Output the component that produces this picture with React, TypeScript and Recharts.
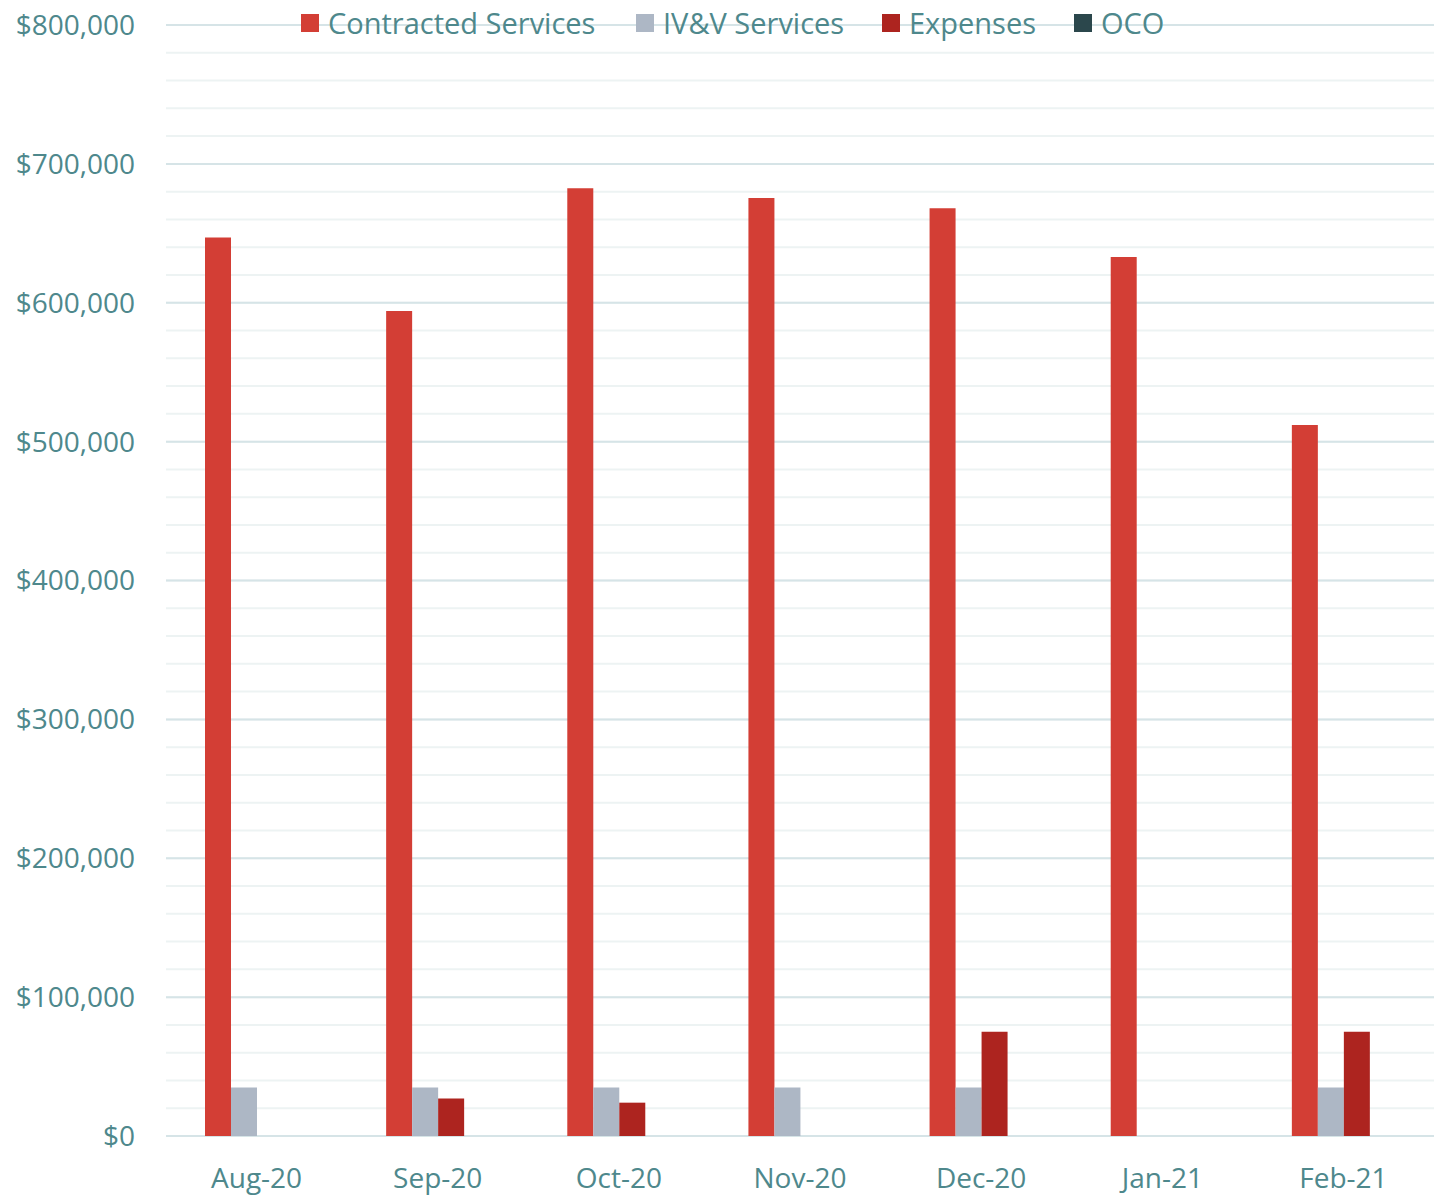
import { BarChart, Bar, XAxis, YAxis, CartesianGrid } from "recharts";

const months = ["Aug-20", "Sep-20", "Oct-20", "Nov-20", "Dec-20", "Jan-21", "Feb-21"];
const contracted = [647000, 594000, 682500, 675500, 668000, 633000, 512000];
const ivv = [35000, 35000, 35000, 35000, 35000, 0, 35000];
const expenses = [0, 27000, 24000, 0, 75000, 0, 75000];
const oco = [0, 0, 0, 0, 0, 0, 0];

const majorTicks = [0, 100000, 200000, 300000, 400000, 500000, 600000, 700000, 800000];
const minorTicks = Array.from({ length: 41 }, (_, i) => i * 20000);

const series = [
  { key: "contracted", name: "Contracted Services", color: "#d33e35" },
  { key: "ivv", name: "IV&V Services", color: "#adb7c5" },
  { key: "expenses", name: "Expenses", color: "#ad241f" },
  { key: "oco", name: "OCO", color: "#2b474c" },
];

const data = months.map((month, i) => ({
  month,
  contracted: contracted[i],
  ivv: ivv[i],
  expenses: expenses[i],
  oco: oco[i],
}));

const FONT = "'Open Sans', sans-serif";
const TEXT = "#4e888c";
const legendSlots = [335, 246, 192, 100];

const fmt = (v: number) => `$${v.toLocaleString("en-US")}`;

// legend sits on top of the plot, overlapping the top gridline
function Legend() {
  return (
    <div
      style={{
        position: "absolute",
        left: 301,
        top: 3,
        display: "flex",
        alignItems: "center",
        fontFamily: FONT,
        fontSize: 29,
        color: TEXT,
        whiteSpace: "nowrap",
      }}
    >
      {series.map((s, i) => (
        <div key={s.key} style={{ display: "flex", alignItems: "center", width: legendSlots[i] }}>
          <span style={{ width: 18, height: 18, background: s.color, marginRight: 9, display: "inline-block" }} />
          <span>{s.name}</span>
        </div>
      ))}
    </div>
  );
}

export default function App() {
  return (
    <div style={{ position: "absolute", left: 0, top: 0, width: 1448, height: 1196, background: "#fff" }}>
      <BarChart
        width={1448}
        height={1196}
        data={data}
        margin={{ top: 25, right: 14, bottom: 0, left: 0 }}
        barGap={0}
        barSize={26}
      >
        <CartesianGrid vertical={false} horizontalValues={minorTicks} stroke="#edf3f3" strokeWidth={2} />
        <CartesianGrid vertical={false} horizontalValues={majorTicks} stroke="#d6e4e7" strokeWidth={2} />
        <XAxis
          dataKey="month"
          height={60}
          axisLine={false}
          tickLine={false}
          tickSize={0}
          tickMargin={32}
          tick={{ fill: TEXT, fontSize: 28, fontFamily: FONT }}
        />
        <YAxis
          width={166}
          domain={[0, 800000]}
          ticks={majorTicks}
          axisLine={false}
          tickLine={false}
          tickSize={0}
          tickMargin={31}
          tickFormatter={fmt}
          tick={{ fill: TEXT, fontSize: 28, fontFamily: FONT }}
        />
        {series.map((s) => (
          <Bar key={s.key} dataKey={s.key} name={s.name} fill={s.color} isAnimationActive={false} />
        ))}
      </BarChart>
      <Legend />
    </div>
  );
}
